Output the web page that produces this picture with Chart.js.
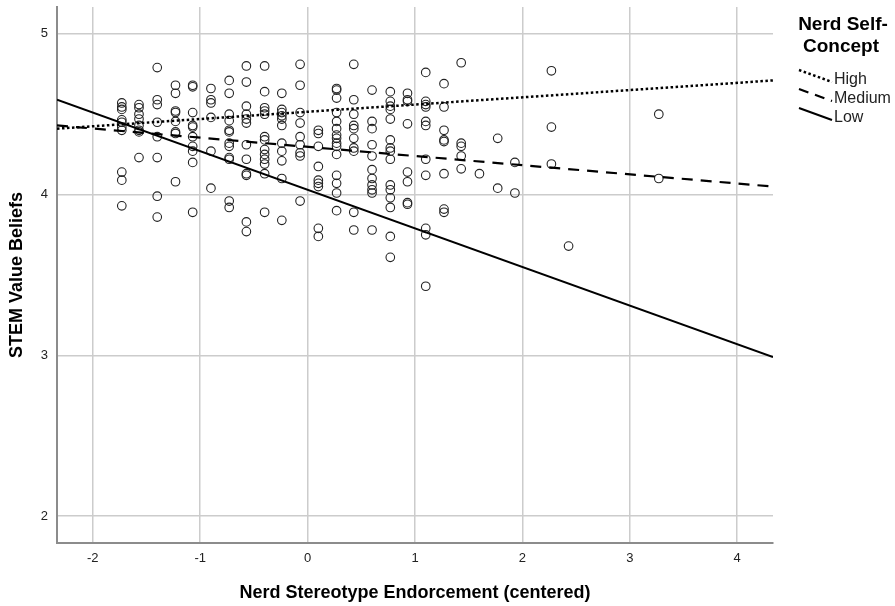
<!DOCTYPE html>
<html>
<head>
<meta charset="utf-8">
<script src="https://cdn.jsdelivr.net/npm/chart.js@4"></script>
<style>
  html, body { margin:0; padding:0; background:#fff; }
  #wrap { width:895px; height:606px; position:relative; }
</style>
</head>
<body>
<div id="wrap"><canvas id="scatterChart"></canvas></div>
<script>
/* 散点 + 三条回归线 */
const colX = [-1.73, -1.57, -1.40, -1.23, -1.07, -0.90, -0.73, -0.57, -0.40, -0.24, -0.07, 0.10, 0.27,
              0.43, 0.60, 0.77, 0.93, 1.10, 1.27, 1.43, 1.60, 1.77, 1.93, 2.27, 2.43, 3.27];
const colY = [
  [4.57, 4.545, 4.53, 4.465, 4.45, 4.42, 4.40, 4.14, 4.09, 3.93],
  [4.56, 4.54, 4.50, 4.47, 4.43, 4.40, 4.39, 4.23],
  [4.79, 4.59, 4.56, 4.45, 4.36, 4.23, 3.99, 3.86],
  [4.68, 4.63, 4.52, 4.51, 4.455, 4.39, 4.38, 4.08],
  [4.68, 4.67, 4.51, 4.43, 4.42, 4.36, 4.30, 4.27, 4.20, 3.89],
  [4.66, 4.59, 4.57, 4.48, 4.27, 4.04],
  [4.71, 4.63, 4.50, 4.46, 4.40, 4.39, 4.32, 4.30, 4.23, 4.22, 3.96, 3.92],
  [4.80, 4.70, 4.55, 4.50, 4.47, 4.445, 4.31, 4.22, 4.13, 4.12, 3.83, 3.77],
  [4.80, 4.64, 4.54, 4.52, 4.50, 4.36, 4.34, 4.28, 4.25, 4.22, 4.19, 4.13, 3.89],
  [4.63, 4.53, 4.51, 4.49, 4.47, 4.43, 4.32, 4.27, 4.21, 4.10, 3.84],
  [4.81, 4.68, 4.51, 4.445, 4.36, 4.31, 4.26, 4.24, 3.96],
  [4.40, 4.38, 4.30, 4.175, 4.09, 4.07, 4.05, 3.79, 3.74],
  [4.66, 4.65, 4.60, 4.51, 4.455, 4.41, 4.37, 4.35, 4.32, 4.30, 4.25, 4.12, 4.07, 4.01, 3.90],
  [4.81, 4.59, 4.50, 4.43, 4.41, 4.35, 4.29, 4.27, 3.89, 3.78],
  [4.65, 4.455, 4.41, 4.31, 4.24, 4.155, 4.10, 4.06, 4.03, 4.01, 3.78],
  [4.64, 4.58, 4.55, 4.53, 4.47, 4.34, 4.29, 4.27, 4.22, 4.06, 4.03, 3.98, 3.92, 3.74, 3.61],
  [4.63, 4.59, 4.58, 4.44, 4.14, 4.08, 3.95, 3.94],
  [4.76, 4.58, 4.56, 4.545, 4.455, 4.43, 4.22, 4.12, 3.79, 3.75, 3.43],
  [4.69, 4.545, 4.40, 4.34, 4.33, 4.13, 3.91, 3.89],
  [4.82, 4.32, 4.30, 4.24, 4.16],
  [4.13],
  [4.35, 4.04],
  [4.20, 4.01],
  [4.77, 4.42, 4.19],
  [3.68],
  [4.50, 4.10]
];
// 回归线两端 (x 轴两端)
const lineX = [-2.3333, 4.3333];
const highLine = [4.41, 4.71];
const mediumLine = [4.43, 4.05];
const lowLine = [4.59, 2.99];
const seriesNames = ['High', 'Medium', 'Low'];
const tickX = [-2, -1, 0, 1, 2, 3, 4];
const tickY = [2, 3, 4, 5];

const FONT = 'Arial, "Liberation Sans", sans-serif';
const dashes = [[2.5, 2.5], [11, 8], []];
const widths = [2.5, 2.2, 2];

const points = colX.flatMap((x, i) => colY[i].map(y => ({ x, y })));
const lineData = [highLine, mediumLine, lowLine].map(l => l.map((y, i) => ({ x: lineX[i], y })));

// 右侧图例 (斜线样式)
const spssLegend = {
  id: 'spssLegend',
  afterDraw(chart) {
    const ctx = chart.ctx;
    ctx.save();
    ctx.fillStyle = '#000';
    ctx.textAlign = 'center';
    ctx.textBaseline = 'middle';
    ctx.font = 'bold 19px ' + FONT;
    ctx.fillText('Nerd Self-', 843, 25);
    ctx.fillText('Concept', 841, 47);
    ctx.textAlign = 'left';
    ctx.font = '16px ' + FONT;
    seriesNames.forEach((n, i) => {
      const cy = 80 + i * 19;
      ctx.strokeStyle = '#000';
      ctx.lineWidth = widths[i];
      ctx.setLineDash(i === 1 ? [10, 7] : dashes[i]);
      ctx.beginPath();
      ctx.moveTo(799, cy - 10);
      ctx.lineTo(832, cy + 2);
      ctx.stroke();
      ctx.setLineDash([]);
      ctx.fillStyle = '#222';
      ctx.fillText(n, 834, cy);
    });
    ctx.restore();
  }
};

const ctx = document.getElementById('scatterChart').getContext('2d');
new Chart(ctx, {
  type: 'scatter',
  data: {
    datasets: [
      ...lineData.map((d, i) => ({
        type: 'line', label: seriesNames[i], data: d,
        borderColor: '#000', borderWidth: widths[i], borderDash: dashes[i],
        pointRadius: 0, fill: false, tension: 0, borderCapStyle: 'butt'
      })),
      { label: 'obs', data: points, pointRadius: 4.3, pointBorderWidth: 1.1,
        borderColor: '#222', backgroundColor: 'rgba(0,0,0,0)', pointHoverRadius: 4.3 }
    ]
  },
  options: {
    responsive: true, maintainAspectRatio: false, animation: false,
    layout: { padding: { top: 7, right: 122, left: 0, bottom: 0 } },
    plugins: { legend: { display: false }, tooltip: { enabled: false } },
    scales: {
      x: {
        type: 'linear', min: -2.3333, max: 4.3333,
        afterBuildTicks: s => { s.ticks = tickX.map(v => ({ value: v })); },
        afterFit: s => { s.height = 63; s.paddingLeft = 0; s.paddingRight = 0; },
        grid: { color: '#cccccc', lineWidth: 1.5, drawTicks: false },
        border: { display: true, color: '#8c8c8c', width: 2 },
        ticks: { padding: 8, color: '#222', font: { family: FONT, size: 13 } },
        title: { display: true, text: 'Nerd Stereotype Endorcement (centered)', color: '#000',
                 font: { family: FONT, size: 18, weight: 'bold' }, padding: { top: 0, bottom: 2 } }
      },
      y: {
        type: 'linear', min: 1.8333, max: 5.1667,
        afterBuildTicks: s => { s.ticks = tickY.map(v => ({ value: v })); },
        afterFit: s => { s.width = 57; s.paddingTop = 0; s.paddingBottom = 0; },
        grid: { color: '#cccccc', lineWidth: 1.5, drawTicks: false },
        border: { display: true, color: '#8c8c8c', width: 2 },
        ticks: { padding: 9, color: '#222', font: { family: FONT, size: 13 } },
        title: { display: true, text: 'STEM Value Beliefs', color: '#000',
                 font: { family: FONT, size: 18, weight: 'bold' }, padding: { top: 6, bottom: 0 } }
      }
    }
  },
  plugins: [spssLegend]
});
</script>
</body>
</html>
